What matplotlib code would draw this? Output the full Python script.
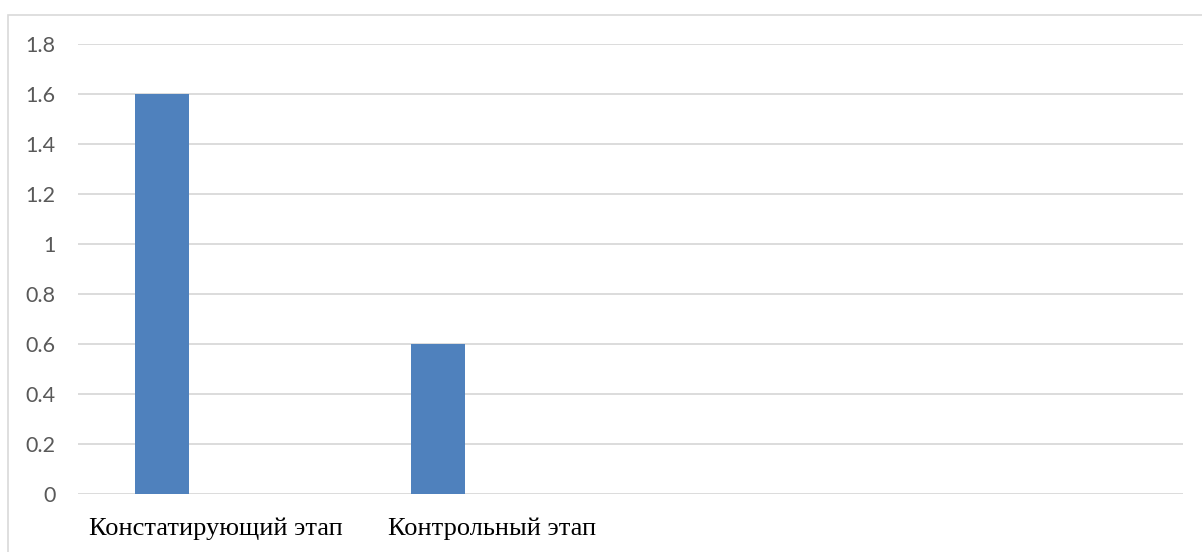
import matplotlib
matplotlib.use("Agg")
import matplotlib.pyplot as plt
from matplotlib.patches import Rectangle
import numpy as np

categories = ["Констатирующий этап", "Контрольный этап", "", ""]
series_main = [1.6, 0.6, 0, 0]
series_b = [0, 0, 0, 0]
series_c = [0, 0, 0, 0]
y_ticks = [0, 0.2, 0.4, 0.6, 0.8, 1.0, 1.2, 1.4, 1.6, 1.8]
y_tick_labels = ["0", "0.2", "0.4", "0.6", "0.8", "1", "1.2", "1.4", "1.6", "1.8"]

W, H = 1202, 552
fig = plt.figure(figsize=(W / 100, H / 100), dpi=100)
fig.patch.set_facecolor("white")

# chart frame
fig.patches.append(Rectangle((8 / W, -0.05), 1.1, 1 - 15 / H + 0.05,
                             transform=fig.transFigure, fill=False,
                             edgecolor="#D9D9D9", linewidth=1.2))

ax = fig.add_axes([78 / W, 1 - 494 / H, (1183 - 78) / W, (494 - 44) / H])
x = np.arange(len(categories))
n_series = 3
bw = 1 / (n_series + 2.11)
for i, vals in enumerate([series_main, series_b, series_c]):
    off = (i - 1) * bw
    ax.bar(x + off, vals, width=bw, color="#4F81BD", zorder=3)

ax.set_xlim(-0.5, len(categories) - 0.5)
ax.set_ylim(0, 1.8)
ax.set_yticks(y_ticks)
ax.set_yticklabels(y_tick_labels, fontsize=15.5, color="#595959", family="Lato")
ax.yaxis.grid(True, color="#D9D9D9", linewidth=1.3, zorder=0)
ax.set_xticks(x)
ax.set_xticklabels(categories, fontsize=19, color="black", family="Liberation Serif")
ax.tick_params(axis="y", length=0, pad=16)
ax.tick_params(axis="x", length=0, pad=17)
for s in ["top", "right", "left", "bottom"]:
    ax.spines[s].set_visible(False)

fig.savefig("out.png", dpi=100, facecolor="white")
